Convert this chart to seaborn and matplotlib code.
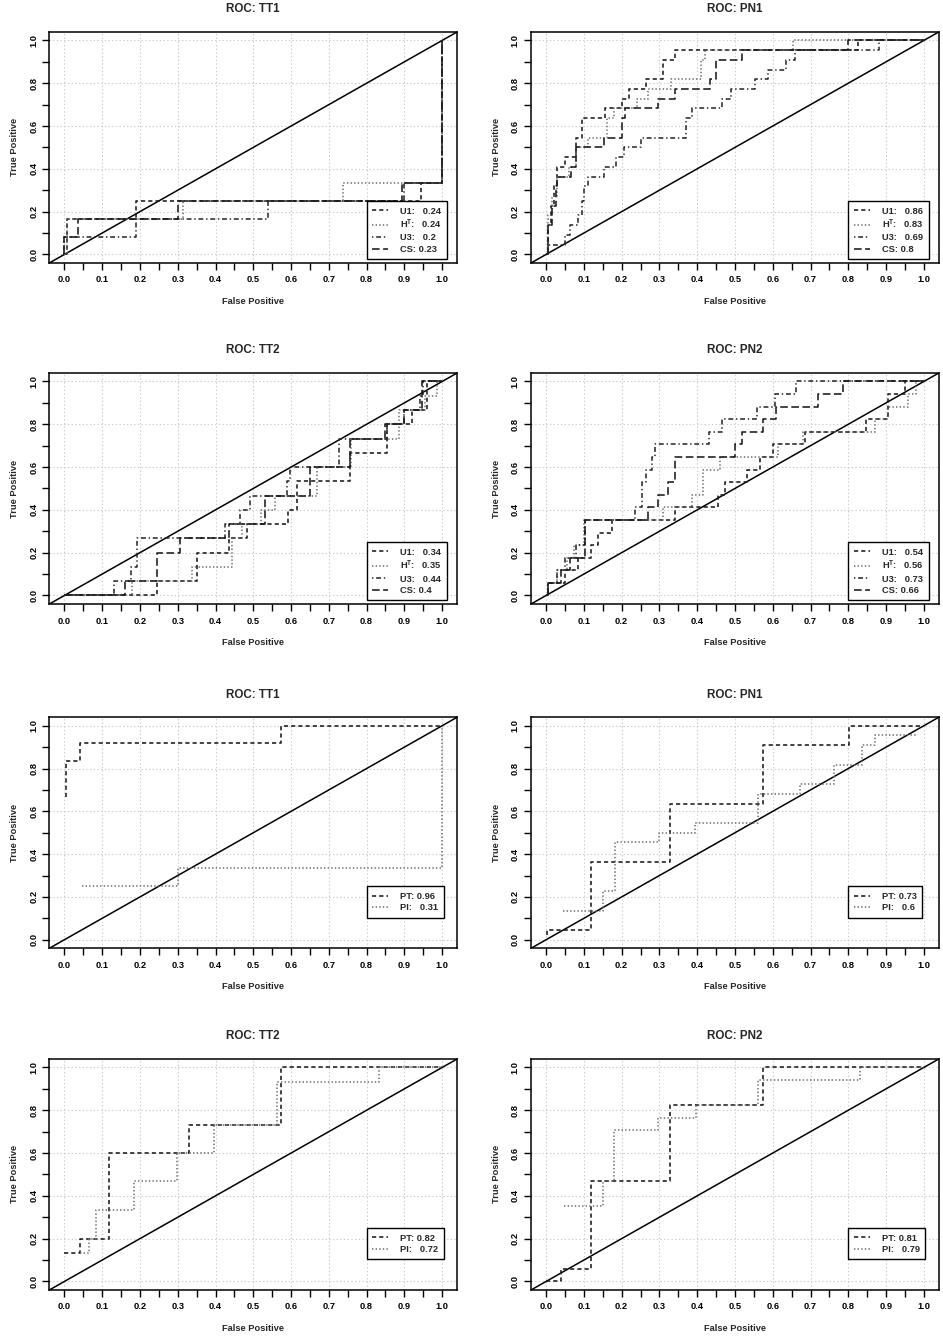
import numpy as np
import matplotlib
matplotlib.use("Agg")
import matplotlib.pyplot as plt
import seaborn as sns

# panel titles (row by row, left then right)
titles = ["ROC: TT1", "ROC: PN1", "ROC: TT2", "ROC: PN2",
          "ROC: TT1", "ROC: PN1", "ROC: TT2", "ROC: PN2"]

# legend names
names_top = ["U1:   ", r"H$^\mathbf{T}$:   ", "U3:   ", "CS: "]
names_bottom = ["PT: ", "PI:   "]

# AUC values shown in the legends
auc_tt1 = [0.24, 0.24, 0.2, 0.23]
auc_pn1 = [0.86, 0.83, 0.69, 0.8]
auc_tt2 = [0.34, 0.35, 0.44, 0.4]
auc_pn2 = [0.54, 0.56, 0.73, 0.66]
auc_tt1_b = [0.96, 0.31]
auc_pn1_b = [0.73, 0.6]
auc_tt2_b = [0.82, 0.72]
auc_pn2_b = [0.81, 0.79]

# ROC points (false positive, true positive), drawn as post-steps
# --- TT1, top
tt1_u1_fp = [0, 0.007, 0.19, 0.943, 1.0]
tt1_u1_tp = [0, 0.167, 0.25, 0.333, 1.0]
tt1_ht_fp = [0, 0.007, 0.314, 0.737, 1.0]
tt1_ht_tp = [0, 0.167, 0.25, 0.333, 1.0]
tt1_u3_fp = [0, 0, 0.19, 0.54, 0.9, 1.0]
tt1_u3_tp = [0, 0.083, 0.167, 0.25, 0.333, 1.0]
tt1_cs_fp = [0, 0, 0.036, 0.30, 0.893, 1.0]
tt1_cs_tp = [0, 0.083, 0.167, 0.25, 0.333, 1.0]

# --- PN1, top
pn1_u1_fp = [0, 0.005, 0.012, 0.022, 0.03, 0.05, 0.08, 0.095, 0.155, 0.2, 0.22,
             0.265, 0.31, 0.34, 0.826, 1.0]
pn1_u1_tp = [0, 0.136, 0.227, 0.318, 0.409, 0.455, 0.545, 0.636, 0.682, 0.727, 0.773,
             0.818, 0.909, 0.955, 1.0, 1.0]
pn1_ht_fp = [0, 0.005, 0.015, 0.03, 0.06, 0.08, 0.11, 0.16, 0.18, 0.24, 0.27,
             0.33, 0.41, 0.42, 0.653, 1.0]
pn1_ht_tp = [0, 0.182, 0.273, 0.364, 0.409, 0.5, 0.545, 0.636, 0.682, 0.727, 0.773,
             0.818, 0.909, 0.955, 1.0, 1.0]
pn1_u3_fp = [0, 0.005, 0.05, 0.063, 0.085, 0.095, 0.1, 0.112, 0.152, 0.185, 0.205,
             0.25, 0.37, 0.385, 0.465, 0.49, 0.553, 0.588, 0.635, 0.66, 0.88, 1.0]
pn1_u3_tp = [0, 0.045, 0.091, 0.136, 0.182, 0.25, 0.318, 0.364, 0.409, 0.455, 0.5,
             0.545, 0.636, 0.682, 0.727, 0.773, 0.818, 0.864, 0.909, 0.955, 1.0, 1.0]
pn1_cs_fp = [0, 0.005, 0.015, 0.025, 0.03, 0.065, 0.08, 0.152, 0.2, 0.21, 0.297,
             0.34, 0.434, 0.45, 0.518, 0.8, 1.0]
pn1_cs_tp = [0, 0.136, 0.227, 0.318, 0.364, 0.409, 0.5, 0.545, 0.636, 0.682, 0.727,
             0.773, 0.818, 0.909, 0.955, 1.0, 1.0]

# --- TT2, top
tt2_u1_fp = [0, 0.245, 0.351, 0.435, 0.483, 0.593, 0.615, 0.755, 0.853, 0.92, 0.96, 1.0]
tt2_u1_tp = [0, 0.067, 0.2, 0.267, 0.333, 0.4, 0.533, 0.667, 0.8, 0.867, 1.0, 1.0]
tt2_ht_fp = [0, 0.18, 0.338, 0.444, 0.47, 0.52, 0.558, 0.668, 0.76, 0.885, 0.955, 0.986, 1.0]
tt2_ht_tp = [0, 0.067, 0.133, 0.267, 0.333, 0.4, 0.467, 0.6, 0.733, 0.867, 0.933, 1.0, 1.0]
tt2_u3_fp = [0, 0.13, 0.175, 0.192, 0.426, 0.464, 0.49, 0.589, 0.596, 0.726, 0.853,
             0.898, 0.942, 0.95, 1.0]
tt2_u3_tp = [0, 0.067, 0.133, 0.267, 0.333, 0.4, 0.467, 0.533, 0.6, 0.733, 0.8,
             0.867, 0.933, 1.0, 1.0]
tt2_cs_fp = [0, 0.16, 0.245, 0.307, 0.435, 0.53, 0.65, 0.757, 0.85, 0.9, 0.946, 1.0]
tt2_cs_tp = [0, 0.067, 0.2, 0.267, 0.333, 0.467, 0.6, 0.733, 0.8, 0.867, 1.0, 1.0]

# --- PN2, top
pn2_u1_fp = [0, 0.005, 0.05, 0.085, 0.12, 0.138, 0.174, 0.341, 0.456, 0.474, 0.531,
             0.566, 0.601, 0.685, 0.848, 0.906, 0.95, 1.0]
pn2_u1_tp = [0, 0.059, 0.118, 0.176, 0.235, 0.294, 0.353, 0.412, 0.471, 0.529, 0.588,
             0.647, 0.706, 0.765, 0.824, 0.941, 1.0, 1.0]
pn2_ht_fp = [0, 0.005, 0.03, 0.055, 0.075, 0.1, 0.31, 0.385, 0.416, 0.46, 0.615,
             0.68, 0.87, 0.906, 0.958, 0.98, 1.0]
pn2_ht_tp = [0, 0.059, 0.118, 0.176, 0.235, 0.353, 0.412, 0.471, 0.588, 0.647, 0.706,
             0.765, 0.824, 0.882, 0.941, 1.0, 1.0]
pn2_u3_fp = [0, 0.005, 0.03, 0.05, 0.08, 0.103, 0.235, 0.253, 0.265, 0.28, 0.288,
             0.432, 0.465, 0.557, 0.606, 0.661, 1.0]
pn2_u3_tp = [0, 0.059, 0.118, 0.176, 0.235, 0.353, 0.412, 0.529, 0.588, 0.647, 0.706,
             0.765, 0.824, 0.882, 0.941, 1.0, 1.0]
pn2_cs_fp = [0, 0.005, 0.04, 0.063, 0.103, 0.27, 0.295, 0.324, 0.341, 0.5, 0.518,
             0.575, 0.608, 0.719, 0.785, 1.0]
pn2_cs_tp = [0, 0.059, 0.118, 0.176, 0.353, 0.412, 0.471, 0.529, 0.647, 0.706, 0.765,
             0.824, 0.882, 0.941, 1.0, 1.0]

# --- bottom panels: PT and PI
tt1_pt_fp = [0.005, 0.005, 0.04, 0.574, 1.0]
tt1_pt_tp = [0.667, 0.833, 0.917, 1.0, 1.0]
tt1_pi_fp = [0.046, 0.3, 1.0]
tt1_pi_tp = [0.25, 0.333, 1.0]

pn1_pt_fp = [0.003, 0.003, 0.118, 0.328, 0.573, 0.802, 1.0]
pn1_pt_tp = [0.02, 0.045, 0.364, 0.636, 0.909, 1.0, 1.0]
pn1_pi_fp = [0.046, 0.15, 0.183, 0.3, 0.395, 0.562, 0.673, 0.762, 0.835, 0.87, 0.985]
pn1_pi_tp = [0.136, 0.227, 0.455, 0.5, 0.545, 0.682, 0.727, 0.818, 0.909, 0.955, 0.955]

tt2_pt_fp = [0.0, 0.04, 0.117, 0.329, 0.574, 1.0]
tt2_pt_tp = [0.133, 0.2, 0.6, 0.733, 1.0, 1.0]
tt2_pi_fp = [0.04, 0.064, 0.084, 0.183, 0.298, 0.395, 0.563, 0.834, 1.0]
tt2_pi_tp = [0.133, 0.2, 0.333, 0.467, 0.6, 0.733, 0.933, 1.0, 1.0]

pn2_pt_fp = [0.0, 0.039, 0.118, 0.328, 0.575, 1.0]
pn2_pt_tp = [0.0, 0.059, 0.471, 0.824, 1.0, 1.0]
pn2_pi_fp = [0.048, 0.15, 0.181, 0.297, 0.397, 0.562, 0.832, 1.0]
pn2_pi_tp = [0.353, 0.471, 0.706, 0.765, 0.824, 0.941, 1.0, 1.0]

panels = [
    [(tt1_u1_fp, tt1_u1_tp), (tt1_ht_fp, tt1_ht_tp), (tt1_u3_fp, tt1_u3_tp), (tt1_cs_fp, tt1_cs_tp)],
    [(pn1_u1_fp, pn1_u1_tp), (pn1_ht_fp, pn1_ht_tp), (pn1_u3_fp, pn1_u3_tp), (pn1_cs_fp, pn1_cs_tp)],
    [(tt2_u1_fp, tt2_u1_tp), (tt2_ht_fp, tt2_ht_tp), (tt2_u3_fp, tt2_u3_tp), (tt2_cs_fp, tt2_cs_tp)],
    [(pn2_u1_fp, pn2_u1_tp), (pn2_ht_fp, pn2_ht_tp), (pn2_u3_fp, pn2_u3_tp), (pn2_cs_fp, pn2_cs_tp)],
    [(tt1_pt_fp, tt1_pt_tp), (tt1_pi_fp, tt1_pi_tp)],
    [(pn1_pt_fp, pn1_pt_tp), (pn1_pi_fp, pn1_pi_tp)],
    [(tt2_pt_fp, tt2_pt_tp), (tt2_pi_fp, tt2_pi_tp)],
    [(pn2_pt_fp, pn2_pt_tp), (pn2_pi_fp, pn2_pi_tp)],
]
aucs = [auc_tt1, auc_pn1, auc_tt2, auc_pn2, auc_tt1_b, auc_pn1_b, auc_tt2_b, auc_pn2_b]

# line styles: dashed, dotted, dot-dash, long dash (like R lty 2..5)
styles_top = [((0, (3, 2.2)), "#1a1a1a"),
              ((0, (1, 1.6)), "#6e6e6e"),
              ((0, (1, 2, 3.5, 2)), "#2a2a2a"),
              ((0, (5.5, 2.5)), "#1a1a1a")]
styles_bottom = [styles_top[0], styles_top[1]]

sns.set_style("ticks")
plt.rcParams["font.family"] = ["Liberation Sans", "DejaVu Sans"]
plt.rcParams["font.weight"] = "bold"
plt.rcParams["mathtext.fontset"] = "custom"
plt.rcParams["mathtext.rm"] = "Liberation Sans:bold"
plt.rcParams["mathtext.bf"] = "Liberation Sans:bold"
plt.rcParams["lines.scale_dashes"] = False

fig = plt.figure(figsize=(9.43, 13.39), dpi=100)

col_left = [0.0523, 0.5631]
row_bottom = [0.8036, 0.5489, 0.2918, 0.0366]
ax_w, ax_h = 0.4326, 0.1726
fs = 6.7

for i, title in enumerate(titles):
    r, c = divmod(i, 2)
    ax = fig.add_axes([col_left[c], row_bottom[r], ax_w, ax_h])
    ax.grid(True, which="major", color="#cccccc", linestyle=":", linewidth=0.8)
    ax.axline((0, 0), slope=1, color="black", linewidth=1.1)

    curves = panels[i]
    if len(curves) == 4:
        styles, names = styles_top, names_top
    else:
        styles, names = styles_bottom, names_bottom

    handles = []
    for (fp, tp), (ls, col) in zip(curves, styles):
        sns.lineplot(x=fp, y=tp, ax=ax, estimator=None, sort=False,
                     drawstyle="steps-post", color=col, linestyle=ls, linewidth=1.15)
        handles.append(ax.lines[-1])
    labels = [f"{n}{v:g}" for n, v in zip(names, aucs[i])]

    ax.set_xlim(-0.04, 1.04)
    ax.set_ylim(-0.04, 1.04)
    xt = np.round(np.arange(0, 1.01, 0.1), 1)
    yt = np.round(np.arange(0, 1.01, 0.2), 1)
    ax.set_xticks(xt)
    ax.set_xticklabels([f"{v:.1f}" for v in xt])
    ax.set_xticks(np.arange(0, 1.001, 0.05), minor=True)
    ax.set_yticks(yt)
    ax.set_yticklabels([f"{v:.1f}" for v in yt], rotation=90, va="center")
    ax.set_yticks(np.arange(0, 1.001, 0.1), minor=True)
    ax.tick_params(which="both", direction="out", length=5, width=1.0,
                   color="black", labelcolor="black", labelsize=fs)
    ax.tick_params(axis="x", which="both", pad=4)
    ax.tick_params(axis="y", which="both", pad=3)
    for s in ax.spines.values():
        s.set_color("black")
        s.set_linewidth(1.1)

    ax.set_xlabel("False Positive", fontsize=fs, fontweight="bold", labelpad=9)
    ax.set_ylabel("True Positive", fontsize=fs, fontweight="bold", labelpad=7)
    ax.set_title(title, fontsize=8.4, fontweight="bold", pad=14)

    leg = ax.legend(handles, labels, loc="upper left", bbox_to_anchor=(0.8, 0.25),
                    bbox_transform=ax.transData, borderaxespad=0, frameon=True,
                    fancybox=False, edgecolor="black", framealpha=1,
                    prop={"size": fs, "weight": "bold"},
                    handlelength=1.7, handletextpad=1.3, labelspacing=0.25, borderpad=0.6)
    leg.get_frame().set_linewidth(1.0)

fig.savefig("out.png", dpi=100)
